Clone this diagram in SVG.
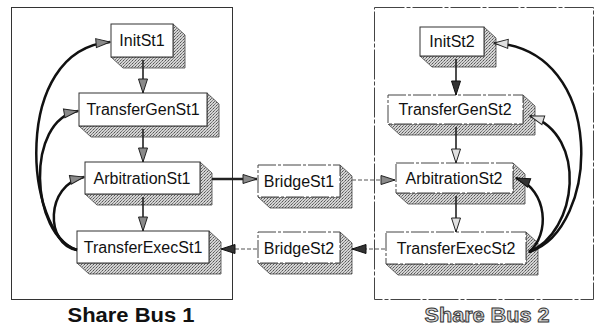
<svg xmlns="http://www.w3.org/2000/svg" width="596" height="331" viewBox="0 0 596 331">
<defs>
<pattern id="dots" width="3" height="3" patternUnits="userSpaceOnUse">
<rect width="3" height="3" fill="#d4d4d4"/>
<rect x="0" y="0" width="1" height="1" fill="#555"/>
<rect x="2" y="1" width="1" height="1" fill="#888"/>
<rect x="1" y="2" width="1" height="1" fill="#777"/>
</pattern>
<marker id="ag" markerUnits="userSpaceOnUse" markerWidth="16" markerHeight="12" refX="15" refY="5.5" orient="auto">
<path d="M1,1 L15,5.5 L1,10 Z" fill="#8a8a8a" stroke="#222" stroke-width="1"/>
</marker>
<marker id="ad" markerUnits="userSpaceOnUse" markerWidth="16" markerHeight="12" refX="15" refY="5.5" orient="auto">
<path d="M1,1 L15,5.5 L1,10 Z" fill="#333" stroke="#111" stroke-width="1"/>
</marker>
<marker id="aw" markerUnits="userSpaceOnUse" markerWidth="16" markerHeight="12" refX="15" refY="5.5" orient="auto">
<path d="M1,1 L15,5.5 L1,10 Z" fill="#e0e0e0" stroke="#222" stroke-width="1"/>
</marker>
</defs>
<style>
.cont{fill:none;stroke:#333;stroke-width:1}
.cont2{fill:none;stroke:#444;stroke-width:1;stroke-dasharray:30 2 4 2}
.face{fill:#fff;stroke:#333;stroke-width:1}
.face2{fill:#fff;stroke:#444;stroke-width:1;stroke-dasharray:18 2 3 2}
.sh{fill:url(#dots);stroke:#444;stroke-width:0.8}
.t{font-family:"Liberation Sans",Arial,sans-serif;font-size:16px;fill:#111;text-anchor:middle}
.lbl{font-family:"Liberation Sans",Arial,sans-serif;font-size:20px;font-weight:bold;text-anchor:middle}
.c{fill:none;stroke:#111;stroke-width:2.5}
.v{fill:none;stroke:#222;stroke-width:1.6}
.d{fill:none;stroke:#555;stroke-width:1.2;stroke-dasharray:4 2}
</style>
<rect class="cont" x="11.5" y="7.5" width="221" height="292"/>
<rect class="cont2" x="374.5" y="7.5" width="219" height="292"/>
<text class="lbl" x="131" y="322" fill="#111" textLength="127" lengthAdjust="spacingAndGlyphs">Share Bus 1</text>
<text class="lbl" x="487" y="322" fill="#d8d8d8" stroke="#333" stroke-width="0.9" textLength="125" lengthAdjust="spacingAndGlyphs">Share Bus 2</text>

<g id="InitSt1">
<path class="sh" d="M173,24 L185,35 L185,68 L123,68 L111,57 L173,57 Z"/>
<rect class="face" x="111" y="24" width="62" height="33"/>
<text class="t" x="142" y="46">InitSt1</text>
</g>
<g id="TransferGenSt1">
<path class="sh" d="M207,93 L219,104 L219,137 L91,137 L79,126 L207,126 Z"/>
<rect class="face" x="79" y="93" width="128" height="33"/>
<text class="t" x="143" y="115">TransferGenSt1</text>
</g>
<g id="ArbitrationSt1">
<path class="sh" d="M200,162 L212,173 L212,205 L97,205 L85,194 L200,194 Z"/>
<rect class="face" x="85" y="162" width="115" height="32"/>
<text class="t" x="142" y="184">ArbitrationSt1</text>
</g>
<g id="TransferExecSt1">
<path class="sh" d="M209,231 L221,242 L221,274 L89,274 L77,263 L209,263 Z"/>
<rect class="face" x="77" y="231" width="132" height="32"/>
<text class="t" x="143" y="253">TransferExecSt1</text>
</g>
<g id="BridgeSt1">
<path class="sh" d="M340,165 L352,176 L352,208 L270,208 L258,197 L340,197 Z"/>
<rect class="face2" x="258" y="165" width="82" height="32"/>
<text class="t" x="299" y="187">BridgeSt1</text>
</g>
<g id="BridgeSt2">
<path class="sh" d="M340,232 L352,243 L352,274 L270,274 L258,263 L340,263 Z"/>
<rect class="face2" x="258" y="232" width="82" height="31"/>
<text class="t" x="299" y="254">BridgeSt2</text>
</g>
<g id="InitSt2">
<path class="sh" d="M484,27 L496,38 L496,67 L432,67 L420,56 L484,56 Z"/>
<rect class="face" x="420" y="27" width="64" height="29"/>
<text class="t" x="452" y="47">InitSt2</text>
</g>
<g id="TransferGenSt2">
<path class="sh" d="M523,95 L535,106 L535,135 L400,135 L388,124 L523,124 Z"/>
<rect class="face2" x="388" y="95" width="135" height="29"/>
<text class="t" x="455" y="115">TransferGenSt2</text>
</g>
<g id="ArbitrationSt2">
<path class="sh" d="M513,163 L525,174 L525,204 L408,204 L396,193 L513,193 Z"/>
<rect class="face2" x="396" y="163" width="117" height="30"/>
<text class="t" x="454" y="184">ArbitrationSt2</text>
</g>
<g id="TransferExecSt2">
<path class="sh" d="M526,232 L538,243 L538,275 L398,275 L386,264 L526,264 Z"/>
<rect class="face2" x="386" y="232" width="140" height="32"/>
<text class="t" x="456" y="254">TransferExecSt2</text>
</g>

<g id="connectors">
<path class="v" d="M143,60 L143,93" marker-end="url(#ag)"/>
<path class="v" d="M143,129 L143,162" marker-end="url(#ag)"/>
<path class="v" d="M143,197 L143,231" marker-end="url(#ag)"/>
<path class="c" d="M77,250 C25,235 10,50 110,42" marker-end="url(#ag)"/>
<path class="c" d="M77,250 C30,235 25,120 78,111" marker-end="url(#ag)"/>
<path class="c" d="M77,250 C45,245 45,185 84,177" marker-end="url(#ag)"/>
<path fill="none" stroke="#222" stroke-width="2.5" d="M212,179 L257,179" marker-end="url(#ag)"/>
<path class="d" d="M257,249 L221,249" marker-end="url(#ad)"/>
<path class="d" d="M352,180 L395,180" marker-end="url(#ag)"/>
<path class="d" d="M385,249 L352,249" marker-end="url(#ad)"/>
<path class="v" d="M456,59 L456,95" marker-end="url(#ad)"/>
<path class="v" d="M456,127 L456,163" marker-end="url(#aw)"/>
<path class="v" d="M456,196 L456,232" marker-end="url(#aw)"/>
<path class="c" d="M529,252 C600,230 608,50 494,43" marker-end="url(#aw)"/>
<path class="c" d="M529,252 C578,232 588,135 530,116" marker-end="url(#aw)"/>
<path class="c" d="M529,252 C550,235 548,190 516,178" marker-end="url(#ad)"/>
</g>
</svg>
